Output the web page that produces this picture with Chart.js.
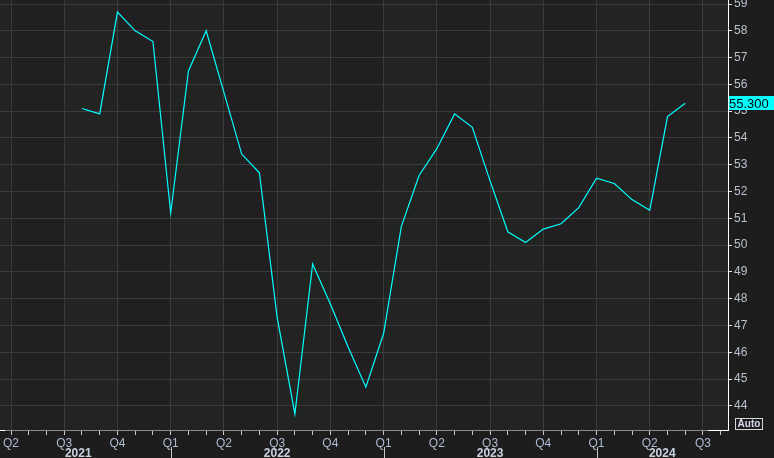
<!DOCTYPE html>
<html>
<head>
<meta charset="utf-8">
<script src="https://cdn.jsdelivr.net/npm/chart.js@4.4.1/dist/chart.umd.min.js"></script>
<style>
  html, body { margin: 0; padding: 0; background: #1d1d1d; }
  canvas { display: block; }
</style>
</head>
<body>
<canvas id="chart" width="774" height="458"></canvas>
<script>
// monthly readings, Aug 2021 .. Jun 2024
const months = [
  "2021-08", "2021-09", "2021-10", "2021-11", "2021-12",
  "2022-01", "2022-02", "2022-03", "2022-04", "2022-05", "2022-06",
  "2022-07", "2022-08", "2022-09", "2022-10", "2022-11", "2022-12",
  "2023-01", "2023-02", "2023-03", "2023-04", "2023-05", "2023-06",
  "2023-07", "2023-08", "2023-09", "2023-10", "2023-11", "2023-12",
  "2024-01", "2024-02", "2024-03", "2024-04", "2024-05", "2024-06"
];
const values = [
  55.1, 54.9, 58.7, 58.0, 57.6,
  51.2, 56.5, 58.0, 55.7, 53.4, 52.7,
  47.3, 43.7, 49.3, 47.8, 46.2, 44.7,
  46.7, 50.7, 52.6, 53.6, 54.9, 54.4,
  52.4, 50.5, 50.1, 50.6, 50.8, 51.4,
  52.5, 52.3, 51.7, 51.3, 54.8, 55.3
];
const yTicks = [44, 45, 46, 47, 48, 49, 50, 51, 52, 53, 54, 55, 56, 57, 58, 59];
const quarterNames = ["Q1", "Q2", "Q3", "Q4"];
const years = ["2021", "2022", "2023", "2024"];
const lastLabel = "55.300";

const baseYear = 2021;
// month index counted from Jan 2021
function monthIndex(s) {
  const [y, m] = s.split("-").map(Number);
  return (y - baseYear) * 12 + (m - 1);
}

const points = months.map((m, i) => ({ x: monthIndex(m), y: values[i] }));

const FONT = "Liberation Sans";

const decor = {
  id: "decor",
  beforeDraw(chart) {
    const { ctx, chartArea: a, scales: { x } } = chart;
    ctx.save();
    ctx.fillStyle = "#1d1d1d";
    ctx.fillRect(0, 0, chart.width, chart.height);
    // alternating quarter bands
    for (let m = 0; m <= 45; m += 3) {
      const x0 = Math.max(a.left, x.getPixelForValue(m));
      const x1 = Math.min(a.right, x.getPixelForValue(m + 3));
      if (x1 <= x0) continue;
      ctx.fillStyle = m % 6 === 0 ? "#212420" : "#221f23";
      ctx.fillRect(x0, a.top, x1 - x0, a.bottom - a.top);
    }
    ctx.restore();
  },
  afterDraw(chart) {
    const { ctx, chartArea: a, scales: { x, y } } = chart;
    ctx.save();
    // year separators and labels
    ctx.strokeStyle = "#c8c8c8";
    ctx.lineWidth = 1;
    ctx.font = "bold 12px " + FONT;
    ctx.fillStyle = "#c9d2e0";
    ctx.textAlign = "center";
    ctx.textBaseline = "alphabetic";
    years.forEach((yr, i) => {
      const start = (Number(yr) - baseYear) * 12;
      const xs = x.getPixelForValue(start);
      if (xs > a.left && xs < a.right) {
        ctx.beginPath();
        ctx.moveTo(Math.round(xs) + 0.5, a.bottom + 17);
        ctx.lineTo(Math.round(xs) + 0.5, chart.height);
        ctx.stroke();
      }
      const l = Math.max(a.left, xs);
      const r = Math.min(a.right, x.getPixelForValue(start + 12));
      const cx = i === 0 ? x.getPixelForValue(start + 6) + 14 : (l + r) / 2;
      ctx.fillText(yr, cx, 457);
    });
    // white corner of the axis frame
    ctx.strokeStyle = "#ffffff";
    ctx.beginPath();
    ctx.moveTo(a.right - 20, a.bottom + 0.5);
    ctx.lineTo(a.right + 0.5, a.bottom + 0.5);
    ctx.moveTo(a.left, a.bottom + 0.5);
    ctx.lineTo(a.left + 5, a.bottom + 0.5);
    ctx.stroke();
    // last value tag
    const yl = Math.round(y.getPixelForValue(values[values.length - 1]));
    ctx.fillStyle = "#00ffff";
    ctx.fillRect(a.right + 1, yl - 7, chart.width - a.right - 1, 14);
    ctx.fillStyle = "#000000";
    ctx.font = "13px " + FONT;
    ctx.textAlign = "left";
    ctx.textBaseline = "middle";
    ctx.fillText(lastLabel, a.right + 1, yl + 1);
    // Auto button
    ctx.strokeStyle = "#d8d8d8";
    ctx.strokeRect(735.5, 418.5, 27, 11);
    ctx.fillStyle = "#d4dbe8";
    ctx.font = "bold 10px " + FONT;
    ctx.textAlign = "center";
    ctx.fillText("Auto", 749, 424.5);
    ctx.restore();
  }
};

new Chart(document.getElementById("chart"), {
  type: "line",
  data: {
    datasets: [{
      data: points,
      borderColor: "#00ffff",
      borderWidth: 1.2,
      pointRadius: 0,
      tension: 0,
      fill: false
    }]
  },
  options: {
    responsive: false,
    animation: false,
    layout: { padding: 0 },
    plugins: { legend: { display: false }, tooltip: { enabled: false } },
    scales: {
      x: {
        type: "linear",
        position: "bottom",
        min: 2.38,
        max: 43.41,
        afterBuildTicks: (s) => {
          const t = [];
          for (let m = 3; m <= 43; m++) t.push({ value: m });
          s.ticks = t;
        },
        afterFit: (s) => {
          s.height = 28;
          s.paddingLeft = 0;
          s.paddingRight = 0;
        },
        ticks: {
          autoSkip: false,
          maxRotation: 0,
          padding: 1,
          color: "#aebbd0",
          font: { family: FONT, size: 12 },
          callback: (v) => (v % 3 === 0 ? quarterNames[(v % 12) / 3] : "")
        },
        grid: {
          color: (c) => (c.tick && c.tick.value % 3 === 0 ? "#3b3b3b" : "rgba(0,0,0,0)"),
          tickColor: "#c8c8c8",
          tickLength: 5
        },
        border: { color: "#8a8a8a", width: 1 }
      },
      y: {
        position: "right",
        min: 43.1,
        max: 59.15,
        afterBuildTicks: (s) => {
          s.ticks = yTicks.map((v) => ({ value: v }));
        },
        afterFit: (s) => {
          s.width = 46;
          s.paddingTop = 0;
          s.paddingBottom = 0;
        },
        ticks: {
          padding: 2,
          color: "#b9c1cd",
          font: { family: FONT, size: 12 }
        },
        grid: {
          color: "#3b3b3b",
          tickColor: "#e6e6e6",
          tickLength: 4
        },
        border: { color: "#ffffff", width: 1 }
      }
    }
  },
  plugins: [decor]
});
</script>
</body>
</html>
